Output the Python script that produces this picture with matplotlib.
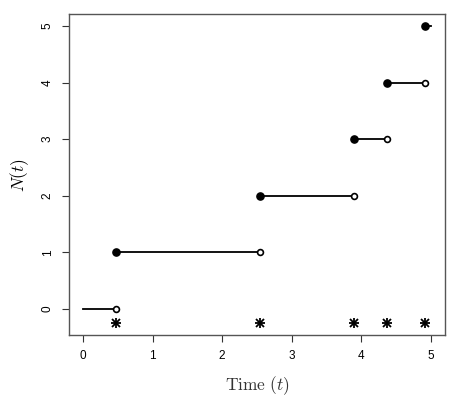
import numpy as np
import matplotlib.pyplot as plt

plt.rcParams['mathtext.fontset'] = 'cm'

# event times of the counting process
event_times = [0.47, 2.54, 3.89, 4.37, 4.92]
t_end = 5.0
star_level = -0.25
x_ticks = [0, 1, 2, 3, 4, 5]
y_ticks = [0, 1, 2, 3, 4, 5]


def plot_main():
    fig = plt.figure(figsize=(4.49, 4.04), dpi=100)
    ax = fig.add_axes([0.1537, 0.1708, 0.991 - 0.1537, 0.9653 - 0.1708])

    starts = [0.0] + event_times
    ends = event_times + [t_end]
    for k, (a, b) in enumerate(zip(starts, ends)):
        ax.plot([a, b], [k, k], "-", color="black", lw=1.3, zorder=2)
        if k > 0:
            ax.plot(a, k, "o", color="black", markersize=5.2, zorder=3)
        if k < len(event_times):
            ax.plot(b, k, "o", markerfacecolor="white", markeredgecolor="black",
                    markeredgewidth=1.2, markersize=4.2, zorder=3)

    # R pch=8 style asterisk: "+" overlaid with "x"
    stars_y = [star_level] * len(event_times)
    ax.plot(event_times, stars_y, linestyle="none", marker="+",
            markersize=7, markeredgewidth=1.3, color="black")
    ax.plot(event_times, stars_y, linestyle="none", marker="x",
            markersize=5.5, markeredgewidth=1.3, color="black")

    ax.set_xlim(-0.2, 5.2)
    ax.set_ylim(-0.46, 5.21)
    ax.set_xticks(x_ticks)
    ax.set_yticks(y_ticks)
    ax.set_yticklabels([str(v) for v in y_ticks], rotation=90, va="center")
    ax.tick_params(labelsize=8.5, length=5, width=0.8, color="#333333",
                   pad=6)
    for lab in ax.get_xticklabels() + ax.get_yticklabels():
        lab.set_fontfamily("Liberation Sans")
    for s in ax.spines.values():
        s.set_color("#555555")
        s.set_linewidth(1.0)

    ax.set_xlabel(r"$\mathrm{Time}\ (t)$", fontsize=12.5,
                  labelpad=9, color="#333333")
    ax.set_ylabel(r"$N(t)$", fontsize=12.5, labelpad=8)

    fig.savefig("out.png", dpi=100)


if __name__ == '__main__':
    plot_main()
